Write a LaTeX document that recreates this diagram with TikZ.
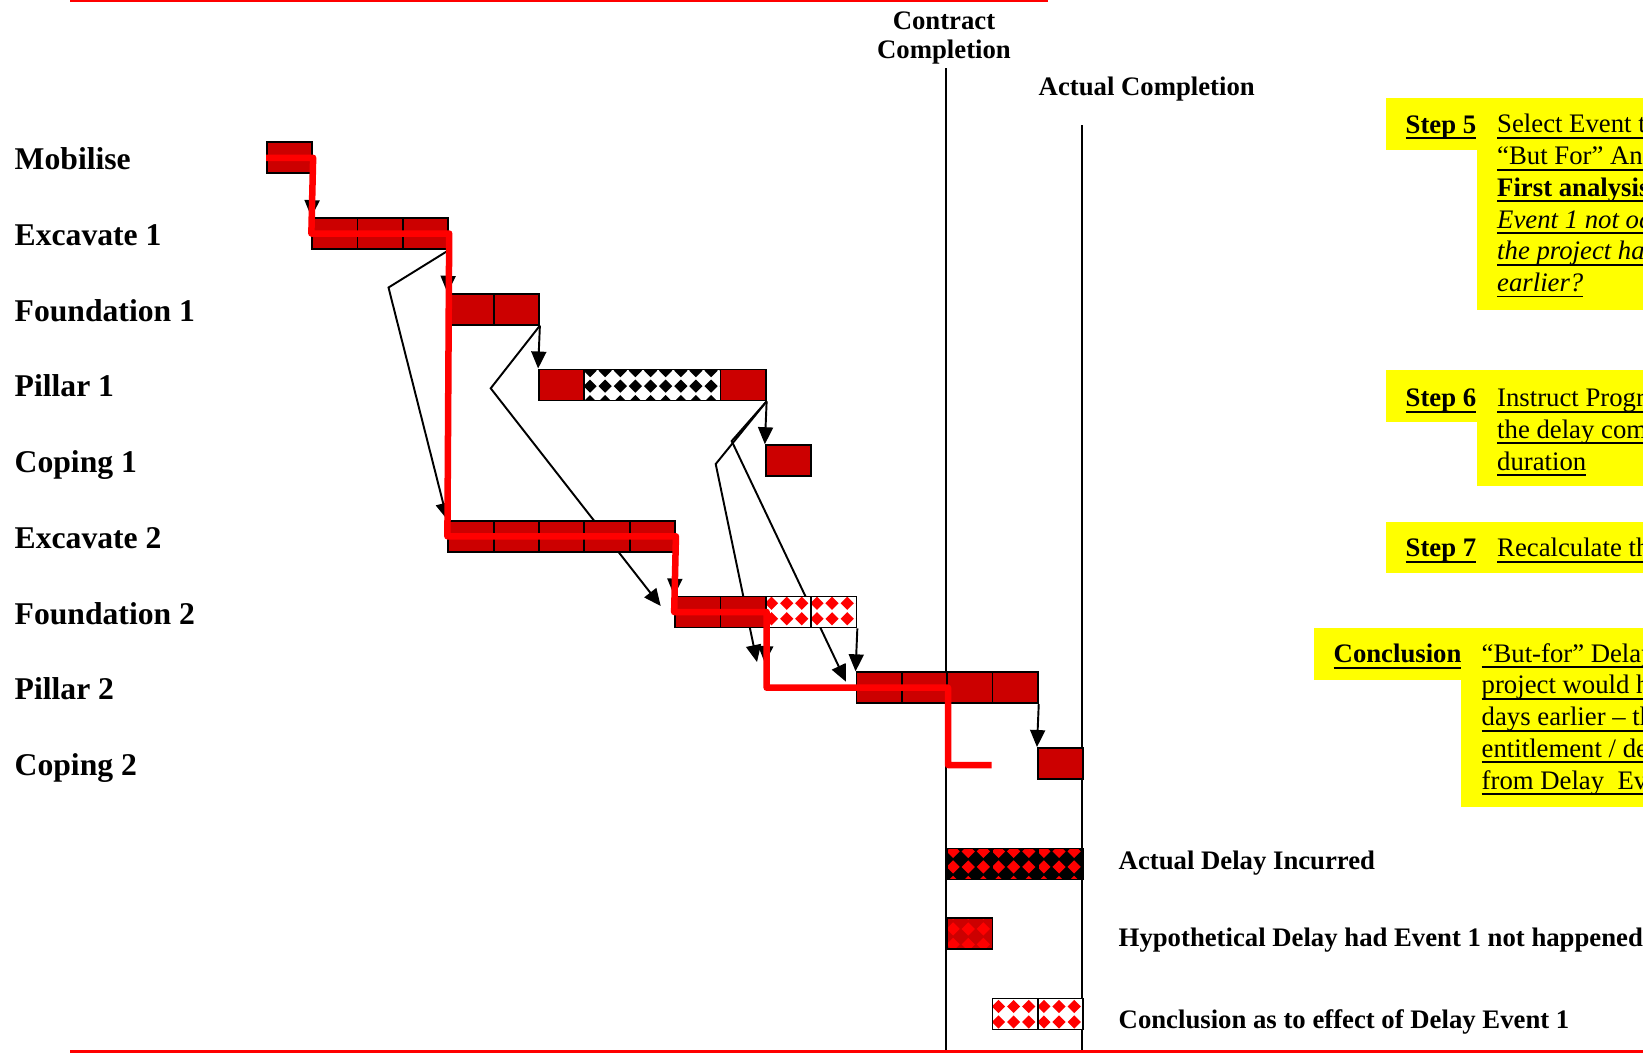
\documentclass[tikz,border=0pt]{standalone}
\usepackage{fontspec}
\setmainfont{Liberation Serif}
\usetikzlibrary{arrows.meta,patterns.meta}
\pgfdeclarelayer{background}
\pgfsetlayers{background,main}

\definecolor{barred}{RGB}{204,0,0}
\definecolor{critred}{RGB}{255,0,0}
\definecolor{notebg}{RGB}{255,255,0}

\tikzdeclarepattern{
  name=diamonds,
  type=uncolored,
  bottom left={(-0.0756cm,-0.0775cm)},
  top right={(0.0756cm,0.0775cm)},
  tile size={(0.1512cm,0.155cm)},
  code={\fill (0,-0.066cm) -- (0.066cm,0) -- (0,0.066cm) -- (-0.066cm,0) -- cycle;}
}

\newcommand{\undl}[1]{\setbox0=\hbox{#1}\rlap{\rule[-0.22em]{\wd0}{0.07em}}\box0}
\newcommand{\xorg}{266}
\newcommand{\cellw}{45.35}

\begin{document}
\begin{tikzpicture}[x=0.01cm, y=-0.01cm,
  cellbase/.style={draw, line width=0.5pt, minimum width=0.4535cm, minimum height=0.31cm, inner sep=0pt, anchor=west},
  tcell/.style={cellbase, fill=barred},
  dcell/.style={cellbase, preaction={fill=#1}, pattern=diamonds},
  dep/.style={line width=0.55pt, -{Triangle[length=0.17cm,width=0.15cm]}},
  critpath/.style={critred, line width=0.065cm, line join=round},
  tasklbl/.style={anchor=base west, inner sep=0pt, font=\fontsize{9}{11}\selectfont\bfseries},
  smalllbl/.style={inner sep=0pt, font=\fontsize{7.6}{8.25}\selectfont\bfseries},
  notetext/.style={anchor=base west, inner sep=0pt, align=left, font=\fontsize{7.6}{9.02}\selectfont}]

\path[use as bounding box] (0,0) rectangle (1643,1053);
\clip (0,0) rectangle (1643,1053);

% page rules
\draw[critred, line width=0.6pt] (70,1) -- (1048,1);
\draw[critred, line width=0.6pt] (70,1051.5) -- (1643,1051.5);

% activity names
\foreach \tname [count=\ri from 0] in {Mobilise, Excavate 1, Foundation 1, Pillar 1, Coping 1, Excavate 2, Foundation 2, Pillar 2, Coping 2}
  \node[tasklbl] (lbl-\ri) at (14,{157.8+75.7*\ri+12}) {\tname};

% bars
\node[tcell] (mob) at (\xorg,157.8) {};
\foreach \c in {1,2,3} \node[tcell] (exc1-\c) at ({\xorg+\cellw*\c},233.5) {};
\foreach \c in {4,5} \node[tcell] (fnd1-\c) at ({\xorg+\cellw*\c},309.2) {};
\node[tcell] (pil1-6) at ({\xorg+\cellw*6},384.9) {};
\node[dcell=white, pattern color=black, minimum width=1.3605cm] (pil1-7) at ({\xorg+\cellw*7},384.9) {};
\node[tcell] (pil1-10) at ({\xorg+\cellw*10},384.9) {};
\node[tcell] (cop1) at ({\xorg+\cellw*11},460.6) {};
\foreach \c in {4,...,8} \node[tcell] (exc2-\c) at ({\xorg+\cellw*\c},536.3) {};
\foreach \c in {9,10} \node[tcell] (fnd2-\c) at ({\xorg+\cellw*\c},612) {};
\foreach \c in {11,12} \node[dcell=white, pattern color=critred] (fnd2-\c) at ({\xorg+\cellw*\c},612) {};
\foreach \c in {13,...,16} \node[tcell] (pil2-\c) at ({\xorg+\cellw*\c},687.7) {};
\node[tcell] (cop2) at ({\xorg+\cellw*17},763.4) {};

% legend bars
\foreach \c in {15,16,17} \node[dcell=black, pattern color=critred] (act-\c) at ({\xorg+\cellw*\c},864) {};
\node[dcell=barred, pattern color=critred] (hyp) at ({\xorg+\cellw*15},933.8) {};
\foreach \c in {16,17} \node[dcell=white, pattern color=critred] (concl-\c) at ({\xorg+\cellw*\c},1014) {};

\coordinate (tipfnd2) at (660.7,606);
\coordinate (tippil2a) at (757,662);
\coordinate (tippil2b) at (846,681.7);
\coordinate (tippil2c) at (764.85,663);
\coordinate (hypend) at (991.6,765);

% links and completion lines behind the bars
\begin{pgfonlayer}{background}
\draw[line width=0.5pt] (946.25,68) -- (946.25,1053);
\draw[line width=0.5pt] (1082.3,125) -- (1082.3,1053);
\draw[dep] (mob.south east) -- (exc1-1.north west);
\draw[dep] (exc1-3.south east) -- (fnd1-4.north west);
\draw[dep] (exc1-3.south east) -- (388.5,287.5) -- (exc2-4.north west);
\draw[dep] (fnd1-5.south east) -- (pil1-6.north west);
\draw[dep] (fnd1-5.south east) -- (490.7,388.3) -- (tipfnd2);
\draw[dep] (pil1-10.south east) -- (cop1.north west);
\draw[dep] (pil1-10.south east) -- (715.7,464) -- (tippil2a);
\draw[dep] (pil1-10.south east) -- (731.7,441) -- (tippil2b);
\draw[dep] (exc2-8.south east) -- (fnd2-9.north west);
\draw[dep] (fnd2-10.south east) -- (tippil2c);
\draw[dep] (fnd2-12.south east) -- (pil2-13.north west);
\draw[dep] (pil2-16.south east) -- (cop2.north west);
\end{pgfonlayer}

% critical path
\draw[critpath] (mob.west) -- (mob.east) -- (exc1-1.west) -- (exc1-3.east) -- (exc2-4.west) -- (exc2-8.east) -- (fnd2-9.west) -- (fnd2-10.east) |- (pil2-14.east) |- (hypend);

% headings
\node[smalllbl, align=center, anchor=base] (contract) at (944,58) {Contract\\Completion};
\node[smalllbl, anchor=base west] (actual) at (1038,95) {Actual Completion};

% legend
\node[smalllbl, anchor=base west] (actlbl) at (1118,869) {Actual Delay Incurred};
\node[smalllbl, anchor=base west] (hyplbl) at (1118,946) {Hypothetical Delay had Event 1 not happened};
\node[smalllbl, anchor=base west] (concllbl) at (1118,1028) {Conclusion as to effect of Delay Event 1};

% notes (multi-line texts are anchored on their last line)
\fill[notebg] (1386,98) rectangle (1477,150);
\fill[notebg] (1477,98) rectangle (1643,310);
\node[notetext] (s5) at (1405,133) {\bfseries\undl{Step 5}};
\node[notetext] (s5txt) at (1496.5,291.5) {\undl{Select Event to}\\\undl{“But For” Anal}\\\undl{\bfseries First analysis}\\\undl{\itshape Event 1 not occ}\\\undl{\itshape the project hav}\\\undl{\itshape earlier?}};

\fill[notebg] (1386,370) rectangle (1477,422);
\fill[notebg] (1477,370) rectangle (1643,486);
\node[notetext] (s6) at (1405,406.7) {\bfseries\undl{Step 6}};
\node[notetext] (s6txt) at (1496.5,470.1) {\undl{Instruct Progra}\\\undl{the delay comp}\\\undl{duration}};

\fill[notebg] (1386,522) rectangle (1643,573);
\node[notetext] (s7) at (1405,556.7) {\bfseries\undl{Step 7}};
\node[notetext] (s7txt) at (1496.5,556.7) {\undl{Recalculate the}};

\fill[notebg] (1314,628) rectangle (1461,680);
\fill[notebg] (1461,628) rectangle (1643,807);
\node[notetext] (cc) at (1333,662.7) {\bfseries\undl{Conclusion}};
\node[notetext] (cctxt) at (1481,789.1) {\undl{“But-for” Delay}\\\undl{project would ha}\\\undl{days earlier – the}\\\undl{entitlement / del}\\\undl{from Delay~~Eve}};
\end{tikzpicture}
\end{document}
